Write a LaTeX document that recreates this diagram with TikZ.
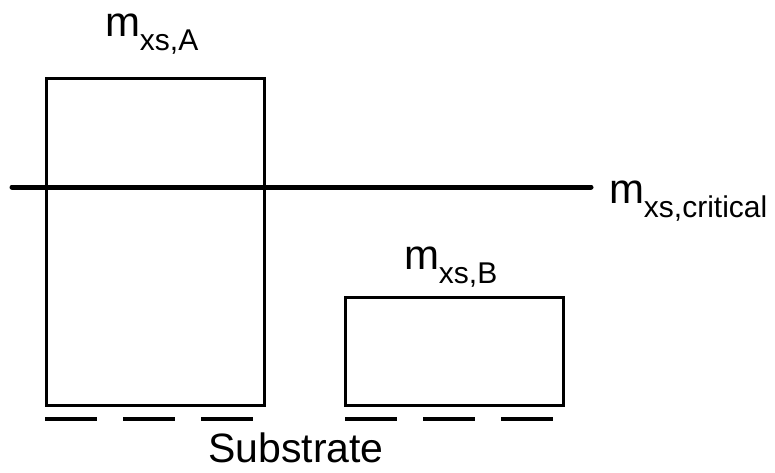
\documentclass[tikz,border=0pt]{standalone}
\usepackage{fontspec}
\setmainfont{Liberation Sans}
\newcommand\mxslabel[1]{\fontsize{42}{42}\selectfont m\raisebox{-14pt}{\fontsize{30}{30}\selectfont xs,#1}}
\tikzset{
  bar/.style={draw=black, line width=3pt, minimum width=218pt, anchor=north west, inner sep=0pt, outer sep=0pt},
  level/.style={draw=black, line width=5pt, line cap=round},
  sub/.style={draw=black, line width=3.5pt},
  lbl/.style={anchor=base west, inner sep=0pt, outer sep=0pt}
}
\begin{document}
\begin{tikzpicture}[x=1pt,y=-1pt]
\useasboundingbox (0,0) rectangle (775,473);
\node[bar, minimum height=326pt] (A) at (46,79) {};
\node[bar, minimum height=108pt] (B) at (345,297) {};
\coordinate (L1) at (12,187);
\coordinate (L2) at (591,187);
\draw[level] (L1) -- (L2);
\foreach \x in {45,123,201,345,423,501}{
  \draw[sub] (\x,419) -- ++(52,0);
}
\node[lbl] (la) at (105,37) {\mxslabel{A}};
\node[lbl] (lb) at (404,269) {\mxslabel{B}};
\node[lbl] (lc) at (609,203) {\mxslabel{critical}};
\node[anchor=base, inner sep=0pt] (ls) at (296,462) {\fontsize{41}{41}\selectfont Substrate};
\end{tikzpicture}
\end{document}
